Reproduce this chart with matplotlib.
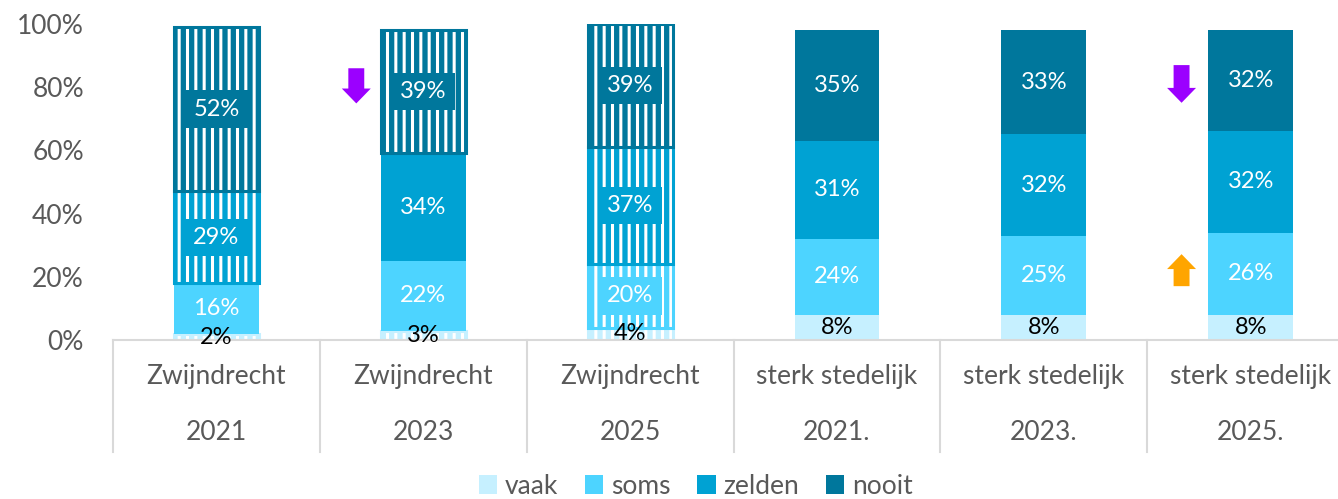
import matplotlib
matplotlib.use("Agg")
import matplotlib.pyplot as plt
import matplotlib.transforms as mtransforms
from matplotlib.patches import Patch

# Data
places = ["Zwijndrecht", "Zwijndrecht", "Zwijndrecht",
          "sterk stedelijk", "sterk stedelijk", "sterk stedelijk"]
years = ["2021", "2023", "2025", "2021.", "2023.", "2025."]
series = ["vaak", "soms", "zelden", "nooit"]
vaak = [2, 3, 4, 8, 8, 8]
soms = [16, 22, 20, 24, 25, 26]
zelden = [29, 34, 37, 31, 32, 32]
nooit = [52, 39, 39, 35, 33, 32]
# which segments are hatched (per series, per bar)
hatched = {
    "vaak": [True, True, True, False, False, False],
    "soms": [False, False, True, False, False, False],
    "zelden": [True, False, True, False, False, False],
    "nooit": [True, True, True, False, False, False],
}
colors = {"vaak": "#C6F0FF", "soms": "#4DD4FF", "zelden": "#00A2D3", "nooit": "#00779C"}
# change arrows: (bar x, top, bottom, colour)
arrows = [(0.676, 85.9, 74.8, "#9B00FF"),
          (4.666, 86.9, 75.0, "#9B00FF"),
          (4.666, 17.1, 27.2, "#FFA500")]

plt.rcParams["font.family"] = ["Lato", "DejaVu Sans"]
plt.rcParams["hatch.linewidth"] = 2.2
grey = "#595959"

fig = plt.figure(figsize=(13.38, 4.99), dpi=100)
ax = fig.add_axes([0.0845, 0.318, 0.9275, 0.6347])

x = list(range(len(years)))
width = 0.41
bottom = [0] * len(x)
values = {"vaak": vaak, "soms": soms, "zelden": zelden, "nooit": nooit}
for name in series:
    vals = values[name]
    col = colors[name]
    for i in x:
        if hatched[name][i]:
            ax.bar(i, vals[i], width, bottom=bottom[i], color=col,
                   edgecolor="white", hatch="||", linewidth=0)
            ax.bar(i, vals[i], width, bottom=bottom[i], fill=False,
                   edgecolor=col, linewidth=2.2)
        else:
            ax.bar(i, vals[i], width, bottom=bottom[i], color=col, linewidth=0)
        yc = bottom[i] + vals[i] / 2
        if name == "vaak":
            ax.text(i, yc, f"{vals[i]}%", ha="center", va="center",
                    fontsize=17, color="black")
        else:
            ax.text(i, yc, f"{vals[i]}%", ha="center", va="center",
                    fontsize=17, color="white",
                    bbox=dict(boxstyle="square,pad=0.35", fc=col, ec="none"))
    bottom = [b + v for b, v in zip(bottom, vals)]

for ax_x, top, bot, col in arrows:
    ax.arrow(ax_x, top, 0, bot - top, width=0.077, head_width=0.14,
             head_length=4.7, length_includes_head=True, color=col, lw=0)

ax.set_xlim(-0.5, 5.5)
ax.set_ylim(0, 100)
ax.set_yticks(range(0, 101, 20))
ax.set_yticklabels([f"{t}%" for t in range(0, 101, 20)], fontsize=19, color=grey)
ax.tick_params(axis="y", length=0, pad=21)
ax.set_xticks([])
for s in ["top", "right", "left"]:
    ax.spines[s].set_visible(False)
ax.spines["bottom"].set_color("#D9D9D9")
ax.spines["bottom"].set_linewidth(1.5)

# two-level category labels with separators
trans = mtransforms.blended_transform_factory(ax.transData, ax.transAxes)
for i in x:
    ax.text(i, -0.113, places[i], transform=trans, ha="center", va="center",
            fontsize=19, color=grey)
    ax.text(i, -0.290, years[i], transform=trans, ha="center", va="center",
            fontsize=19, color=grey)
for b in range(len(x) + 1):
    ax.plot([b - 0.5, b - 0.5], [0, -0.353], transform=trans, color="#D9D9D9",
            lw=1.5, clip_on=False)

handles = [Patch(facecolor=colors[n], edgecolor="none") for n in series]
fig.legend(handles, series, loc="center", bbox_to_anchor=(0.52, 0.026),
           ncol=4, frameon=False, fontsize=19, handlelength=0.7,
           handleheight=0.7, handletextpad=0.3, columnspacing=1.0,
           labelcolor=grey)

fig.savefig("out.png", dpi=100)
